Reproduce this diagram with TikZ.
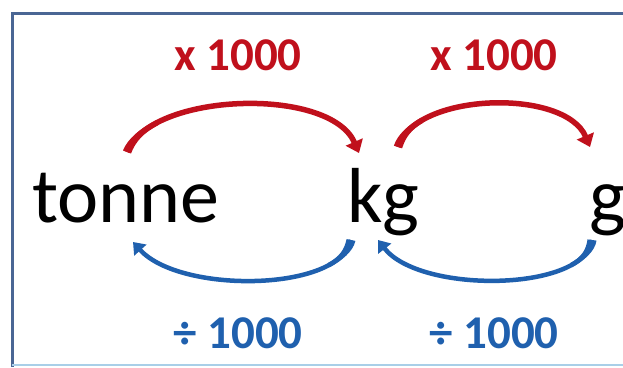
\documentclass[tikz,border=0pt]{standalone}
\usepackage{fontspec}
\setmainfont{Carlito}
\usetikzlibrary{arrows.meta}
\definecolor{framec}{HTML}{4A6694}
\definecolor{framelight}{HTML}{A9CFE8}
\definecolor{redc}{HTML}{C0101C}
\definecolor{bluec}{HTML}{1F60AE}
\tikzset{
  unit/.style={font=\fontsize{78}{82}\selectfont, inner sep=0pt, anchor=base west},
  redlab/.style={font=\fontsize{47}{50}\selectfont\bfseries, text=redc, inner sep=0pt},
  bluelab/.style={font=\fontsize{47}{50}\selectfont\bfseries, text=bluec, inner sep=0pt},
  redarc/.style={draw=redc, line width=5.5pt, -{Triangle[width=18pt,length=12pt]}},
  bluearc/.style={draw=bluec, line width=4.5pt, -{Triangle[width=16pt,length=11pt]}},
}
\begin{document}
\begin{tikzpicture}[x=1pt,y=-1pt]
\useasboundingbox (0,0) rectangle (623,367);
\fill[white] (0,0) rectangle (623,367);
% frame
\draw[framec, line width=3pt] (12,367) -- (12,13) -- (623,13);
\draw[framelight, line width=1.5pt] (12,365) -- (623,365);
% units
\node[unit] (tonne) at (32,222) {tonne};
\node[unit] (kg) at (347,222) {kg};
\node[unit] (g) at (589,222) {g};
% labels
\node[redlab] (m1) at (238,55) {x 1000};
\node[redlab] (m2) at (494,55) {x 1000};
\node[bluelab] (d1) at (238,333) {÷ 1000};
\node[bluelab] (d2) at (494,333) {÷ 1000};
% arc end points
\coordinate (r1s) at (127,152);
\coordinate (r1e) at (359,153);
\coordinate (r2s) at (398,147);
\coordinate (r2e) at (590,147);
\coordinate (b1s) at (351,240);
\coordinate (b1e) at (133,242);
\coordinate (b2s) at (592,240);
\coordinate (b2e) at (378,240);
% arcs with arrow heads
\draw[redarc] (r1s) .. controls (150,92) and (330,86) .. (r1e);
\draw[redarc] (r2s) .. controls (415,92) and (565,88) .. (r2e);
\draw[bluearc] (b1s) .. controls (340,292) and (180,294) .. (b1e);
\draw[bluearc] (b2s) .. controls (585,292) and (420,294) .. (b2e);
% tapered tails
\fill[redc] (123.0,150.5) .. controls (127.6,138.5) and (141.3,127.8) .. (156.0,120.3)
  -- (158.4,125.1) .. controls (143.7,132.6) and (135.6,141.5) .. (131.0,153.5) -- cycle;
\fill[redc] (393.9,145.7) .. controls (397.3,134.7) and (408.75,124.6) .. (420.8,117.8)
  -- (423.4,122.6) .. controls (411.4,129.4) and (405.5,137.3) .. (402.1,148.3) -- cycle;
\fill[bluec] (355.4,240.9) .. controls (353.2,251.3) and (341.7,260.8) .. (329.7,267.2)
  -- (327.5,263.2) .. controls (339.5,256.8) and (344.4,249.5) .. (346.6,239.1) -- cycle;
\fill[bluec] (596.5,240.6) .. controls (595.1,251.0) and (584.0,260.8) .. (572.2,267.2)
  -- (570.0,263.2) .. controls (581.8,256.8) and (586.1,249.8) .. (587.5,239.4) -- cycle;
\end{tikzpicture}
\end{document}
